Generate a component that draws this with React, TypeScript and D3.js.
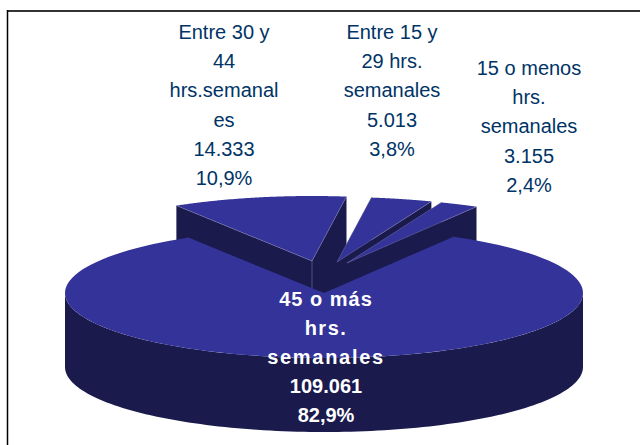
import React from 'react';
import * as d3 from 'd3';

const categories = ['45 o más', 'Entre 30 y 44', 'Entre 15 y 29', '15 o menos'];
const values = [109061, 14333, 5013, 3155];
const labelLines = [
  ['45 o más', 'hrs.', 'semanales', '109.061', '82,9%'],
  ['Entre 30 y', '44', 'hrs.semanal', 'es', '14.333', '10,9%'],
  ['Entre 15 y', '29 hrs.', 'semanales', '5.013', '3,8%'],
  ['15 o menos', 'hrs.', 'semanales', '3.155', '2,4%'],
];
const labelX = [326, 224, 392, 529];
const labelY = [306, 39, 39, 75];
const lineGap = [29, 29.2, 29.2, 29.2];
// the white label is spaced out on its text lines, not on the numbers
const boldSpacing = [1, 1.5, 1.7, 0, 0];
// how far each slice is pulled out of the pie
const offsets = [[0, 0], [-12, -32], [13, -31], [23, -30]];

const width = 640;
const height = 445;
const cx = 324;
const cy = 293;
const rx = 259;
const ry = 65;
const depth = 74;

const topColor = '#333399';
const sideColor = '#1a1a4d';
const textColor = '#003366';

const App = () => {
  const pie = d3.pie<number>().sort(null).startAngle((30 * Math.PI) / 180).endAngle((390 * Math.PI) / 180);
  const arcs = pie(values);
  const line = d3.line();

  const pt = (a: number, dx: number, dy: number): [number, number] => [
    cx + dx + rx * Math.sin(a),
    cy + dy - ry * Math.cos(a),
  ];

  const rim = (start: number, end: number, dx: number, dy: number) =>
    d3.range(0, 121).map(i => pt(start + ((end - start) * i) / 120, dx, dy));

  // draw the small slices back to front, main slice last so it hides their walls
  const order = [1, 2, 3, 0];

  return (
    <svg width={width} height={height} style={{ position: 'absolute', left: 0, top: 0, background: '#fff' }}>
      <line x1={7} y1={11} x2={width} y2={11} stroke="#333" strokeWidth={2} />
      <line x1={7.5} y1={10} x2={7.5} y2={height} stroke="#000" strokeWidth={1.5} />
      {order.map(i => {
        const a = arcs[i];
        const [dx, dy] = offsets[i];
        const apex: [number, number] = [cx + dx, cy + dy];
        const top = [apex, ...rim(a.startAngle, a.endAngle, dx, dy)];
        const down = (p: [number, number]): [number, number] => [p[0], p[1] + depth];
        const startEdge = pt(a.startAngle, dx, dy);
        const endEdge = pt(a.endAngle, dx, dy);
        // outer wall only for the front half of the main slice
        const outer = i === 0
          ? [...rim(Math.PI / 2, (3 * Math.PI) / 2, dx, dy), ...rim(Math.PI / 2, (3 * Math.PI) / 2, dx, dy).map(down).reverse()]
          : null;
        return (
          <g key={categories[i]}>
            {i !== 0 && (
              <>
                <path d={line([apex, startEdge, down(startEdge), down(apex)]) + 'Z'} fill={sideColor} />
                <path d={line([apex, endEdge, down(endEdge), down(apex)]) + 'Z'} fill={sideColor} />
              </>
            )}
            {i === 1 && (
              <line x1={apex[0]} y1={apex[1]} x2={apex[0]} y2={apex[1] + depth} stroke="#8a8ab8" strokeWidth={0.5} />
            )}
            {outer && <path d={line(outer) + 'Z'} fill={sideColor} />}
            <path d={line(top) + 'Z'} fill={topColor} />
            {i !== 0 && <path d={line([startEdge, apex, endEdge]) ?? ''} fill="none" stroke="#8a8ab8" strokeWidth={0.4} />}
          </g>
        );
      })}
      {labelLines.map((lines, i) => (
        <text
          key={categories[i]}
          textAnchor="middle"
          fontFamily="'Liberation Sans', Arial, sans-serif"
          fontSize={20}
          fontWeight={i === 0 ? 'bold' : 'normal'}
          fill={i === 0 ? '#fff' : textColor}
        >
          {lines.map((t, j) => (
            <tspan key={j} x={labelX[i]} y={labelY[i] + j * lineGap[i]} letterSpacing={i === 0 ? boldSpacing[j] : 0}>{t}</tspan>
          ))}
        </text>
      ))}
    </svg>
  );
};

export default App;
